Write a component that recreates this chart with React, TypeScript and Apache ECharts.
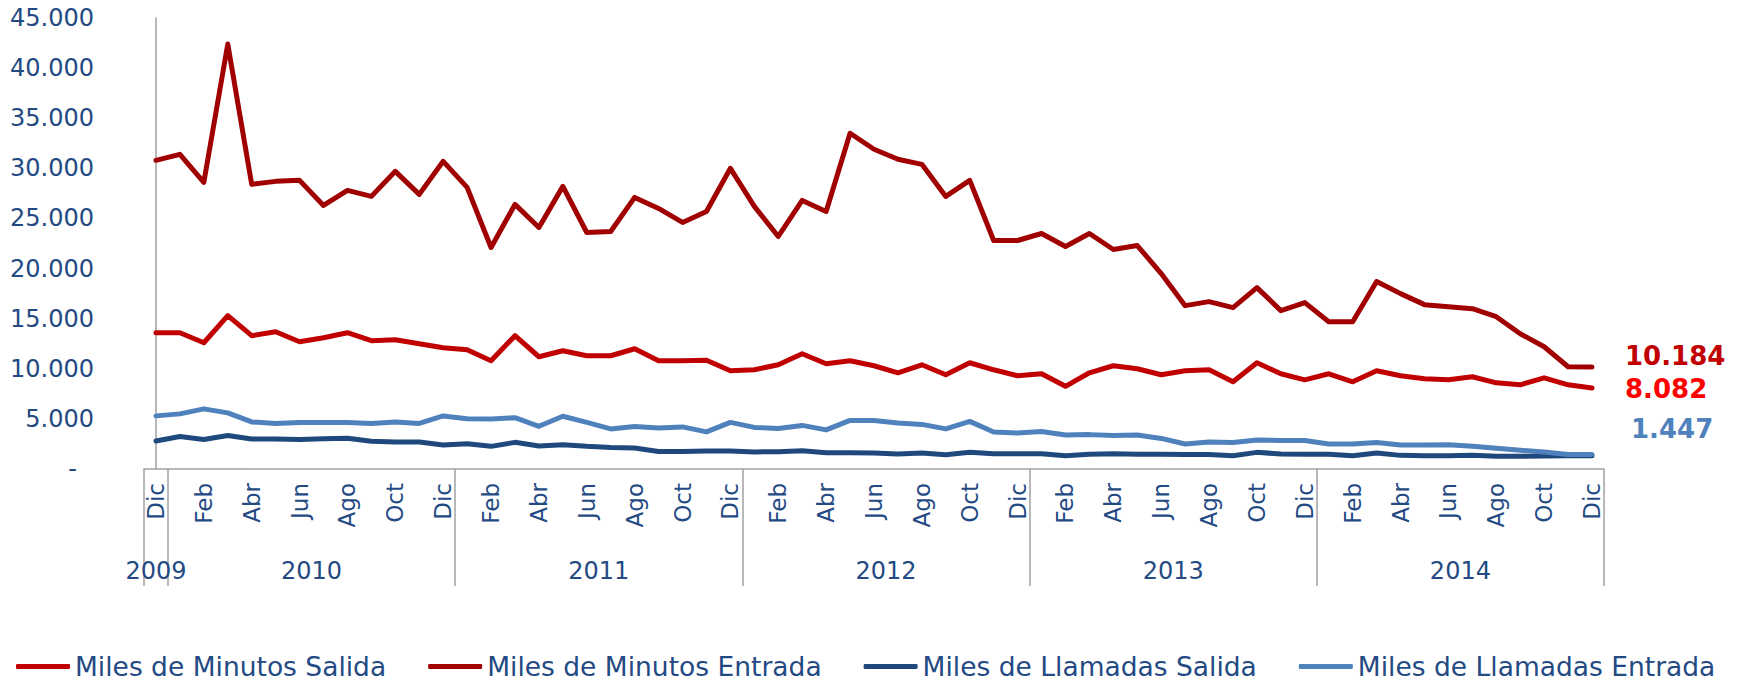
import React, { useEffect, useRef } from "react";
import * as echarts from "echarts";

const monthNames = ["Ene", "Feb", "Mar", "Abr", "May", "Jun", "Jul", "Ago", "Sep", "Oct", "Nov", "Dic"];
const years = ["2009", "2010", "2011", "2012", "2013", "2014"];
const firstMonthOfYear = [11, 0, 0, 0, 0, 0];

const minutosSalida = [
  13600, 13600, 12600, 15300, 13300, 13700, 12700, 13100, 13600, 12800, 12900, 12500, 12100,
  11900, 10800, 13300, 11200, 11800, 11300, 11300, 12000, 10800, 10800, 10850, 9800,
  9900, 10400, 11500, 10500, 10800, 10300, 9600, 10400, 9400, 10600, 9900, 9300,
  9500, 8250, 9600, 10300, 10000, 9400, 9800, 9900, 8700, 10600, 9500, 8900,
  9500, 8700, 9800, 9300, 9000, 8900, 9200, 8600, 8400, 9100, 8400, 8082,
];
const minutosEntrada = [
  30800, 31400, 28600, 42400, 28400, 28700, 28800, 26300, 27800, 27200, 29700, 27400, 30700,
  28100, 22100, 26400, 24100, 28200, 23600, 23700, 27100, 26000, 24600, 25700, 30000,
  26200, 23200, 26800, 25700, 33500, 31900, 30900, 30400, 27200, 28800, 22800, 22800,
  23500, 22200, 23500, 21900, 22300, 19500, 16300, 16700, 16100, 18100, 15800, 16600,
  14700, 14700, 18700, 17500, 16400, 16200, 16000, 15200, 13500, 12200, 10200, 10184,
];
const llamadasSalida = [
  2800, 3250, 2950, 3350, 3000, 3000, 2950, 3030, 3060, 2760, 2700, 2700, 2400,
  2530, 2260, 2660, 2300, 2430, 2260, 2150, 2100, 1750, 1750, 1800, 1800,
  1700, 1730, 1830, 1630, 1630, 1600, 1500, 1600, 1430, 1660, 1530, 1530,
  1530, 1330, 1460, 1530, 1460, 1460, 1450, 1450, 1330, 1660, 1500, 1460,
  1480, 1330, 1600, 1360, 1330, 1330, 1360, 1260, 1260, 1300, 1330, 1330,
];
const llamadasEntrada = [
  5300, 5500, 6000, 5600, 4700, 4550, 4650, 4650, 4650, 4550, 4700, 4550, 5290,
  5020, 4990, 5120, 4260, 5260, 4650, 4000, 4250, 4100, 4200, 3700, 4650,
  4150, 4050, 4350, 3900, 4850, 4850, 4600, 4450, 4000, 4750, 3700, 3600,
  3750, 3400, 3430, 3350, 3400, 3050, 2500, 2700, 2650, 2900, 2850, 2850,
  2500, 2500, 2650, 2400, 2400, 2430, 2260, 2060, 1860, 1700, 1450, 1447,
];

const seriesNames = [
  "Miles de Minutos Salida",
  "Miles de Minutos Entrada",
  "Miles de Llamadas Salida",
  "Miles de Llamadas Entrada",
];

const FONT = "'DejaVu Sans', Verdana, sans-serif";
const TEXT = "#244A84";
const AXIS = "#A0A0A0";

const fmt = (v: number) => String(Math.round(v)).replace(/\B(?=(\d{3})+(?!\d))/g, ".");

export default function App() {
  const ref = useRef<HTMLDivElement>(null);
  useEffect(() => {
    document.body.style.margin = "0";
    document.body.style.overflow = "hidden";
    const chart = echarts.init(ref.current!, undefined, { renderer: "svg" });

    const categories: string[] = [];
    const yearOfCat: number[] = [];
    years.forEach((_, yi) => {
      for (let m = firstMonthOfYear[yi]; m < 12; m++) {
        categories.push(monthNames[m]);
        yearOfCat.push(yi);
      }
    });
    const centers: number[] = [];
    const bounds: number[] = [];
    years.forEach((_, yi) => {
      const idx = yearOfCat.map((y, i) => (y === yi ? i : -1)).filter((i) => i >= 0);
      centers.push((idx[0] + idx[idx.length - 1]) / 2);
      bounds.push(idx[0] - 0.5);
    });
    bounds.push(categories.length - 0.5);

    const mk = (name: string, data: number[], color: string, label?: { color: string; offset: number[] }) => ({
      name,
      type: "line",
      data,
      symbol: "none",
      itemStyle: { color },
      lineStyle: { color, width: 5, cap: "round", join: "round" },
      endLabel: label
        ? {
            show: true,
            formatter: (p: any) => fmt(p.value),
            color: label.color,
            fontSize: 26,
            fontWeight: "bold",
            fontFamily: FONT,
            distance: 0,
            offset: label.offset,
            align: "left",
            verticalAlign: "middle",
          }
        : { show: false },
    });

    chart.setOption({
      animation: false,
      backgroundColor: "#ffffff",
      textStyle: { fontFamily: FONT },
      grid: { left: 144, right: 140, top: 18, bottom: 214 },
      legend: {
        data: seriesNames,
        left: 16,
        bottom: 3,
        width: 1728,
        padding: 0,
        icon: "roundRect",
        itemWidth: 54,
        itemHeight: 5,
        itemGap: 42,
        textStyle: { fontSize: 26.5, color: TEXT, fontFamily: FONT },
      },
      xAxis: [
        {
          type: "category",
          data: categories,
          boundaryGap: true,
          position: "bottom",
          axisLine: { show: true, lineStyle: { color: AXIS, width: 1.5 } },
          axisTick: { show: false },
          axisLabel: {
            interval: 1,
            rotate: 90,
            margin: 14,
            fontSize: 23,
            color: TEXT,
            fontFamily: FONT,
          },
          splitLine: { show: false },
        },
        {
          type: "value",
          min: -0.5,
          max: categories.length - 0.5,
          position: "bottom",
          axisLine: { show: false },
          splitLine: { show: false },
          axisTick: {
            show: true,
            customValues: bounds,
            length: 117,
            lineStyle: { color: AXIS, width: 1.5 },
          },
          axisLabel: {
            customValues: centers,
            formatter: (v: number) => {
              const k = centers.findIndex((c) => Math.abs(c - v) < 1e-6);
              return k >= 0 ? years[k] : "";
            },
            margin: 90,
            fontSize: 24,
            color: TEXT,
            fontFamily: FONT,
          },
        },
      ],
      yAxis: {
        type: "value",
        min: 0,
        max: 45000,
        interval: 5000,
        axisLine: { show: true, lineStyle: { color: AXIS, width: 1.5 } },
        axisTick: { show: false },
        splitLine: { show: false },
        axisLabel: {
          margin: 50,
          fontSize: 24,
          color: TEXT,
          fontFamily: FONT,
          formatter: (v: number) => (v === 0 ? "{dash|-}" : fmt(v)),
          rich: { dash: { padding: [0, 17, 0, 0], fontSize: 24, color: TEXT, fontFamily: FONT } },
        },
      },
      series: [
        mk(seriesNames[0], minutosSalida, "#C00000", { color: "#FF0000", offset: [33, 1] }),
        mk(seriesNames[1], minutosEntrada, "#A00000", { color: "#C00000", offset: [33, -11] }),
        mk(seriesNames[2], llamadasSalida, "#1F497D"),
        mk(seriesNames[3], llamadasEntrada, "#4F81BD", { color: "#4F81BD", offset: [39, -25] }),
      ],
    });
    return () => chart.dispose();
  }, []);
  return <div ref={ref} style={{ width: 1744, height: 683 }} />;
}
